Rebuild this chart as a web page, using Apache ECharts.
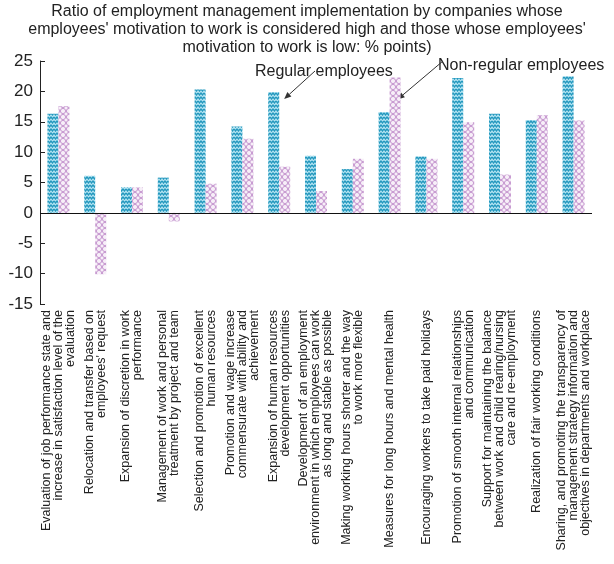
<!DOCTYPE html>
<html>
<head>
<meta charset="utf-8">
<script src="https://cdn.jsdelivr.net/npm/echarts@6/dist/echarts.min.js"></script>
<style>
  html, body { margin: 0; padding: 0; background: #fff; }
  #chart { width: 614px; height: 564px; }
</style>
</head>
<body>
<div id="chart"></div>
<script>
// Employment management items (x-axis categories)
const categories = [
  "Evaluation of job performance state and\nincrease in satisfaction level of the\nevaluation",
  "Relocation and transfer based on\nemployees' request",
  "Expansion of discretion in work\nperformance",
  "Management of work and personal\ntreatment by project and team",
  "Selection and promotion of excellent\nhuman resources",
  "Promotion and wage increase\ncommensurate with ability and\nachievement",
  "Expansion of human resources\ndevelopment opportunities",
  "Development of an employment\nenvironment in which employees can work\nas long and stable as possible",
  "Making working hours shorter and the way\nto work more flexible",
  "Measures for long hours and mental health",
  "Encouraging workers to take paid holidays",
  "Promotion of smooth internal relationships\nand communication",
  "Support for maintaining the balance\nbetween work and child rearing/nursing\ncare and re-employment",
  "Realization of fair working conditions",
  "Sharing, and promoting the transparency of\nmanagement strategy information and\nobjectives in departments and workplace"
];

// Difference in implementation ratio (% points)
const regularEmployees = [16.3, 6.1, 4.2, 5.8, 20.3, 14.2, 19.9, 9.4, 7.2, 16.6, 9.3, 22.2, 16.3, 15.3, 22.5];
const nonRegularEmployees = [17.6, -10.1, 4.2, -1.4, 4.8, 12.2, 7.6, 3.6, 8.9, 22.3, 8.9, 14.9, 6.3, 16.1, 15.2];

const yTicks = { min: -15, max: 25, interval: 5 };

const titleText = "Ratio of employment management implementation by companies whose\n" +
  "employees' motivation to work is considered high and those whose employees'\n" +
  "motivation to work is low: % points)";

// Hatch-style fills for the two series
function wavePattern() {
  const c = document.createElement('canvas');
  c.width = 6; c.height = 4;
  const g = c.getContext('2d');
  g.fillStyle = '#b4e4f2';
  g.fillRect(0, 0, 6, 4);
  g.strokeStyle = '#2498be';
  g.lineWidth = 1.3;
  g.beginPath();
  g.moveTo(0, 1); g.lineTo(1.5, 3); g.lineTo(3, 1); g.lineTo(4.5, 3); g.lineTo(6, 1);
  g.stroke();
  return c;
}
function ringPattern() {
  const c = document.createElement('canvas');
  c.width = 6; c.height = 6;
  const g = c.getContext('2d');
  g.fillStyle = '#f7eff8';
  g.fillRect(0, 0, 6, 6);
  g.strokeStyle = '#c597cf';
  g.lineWidth = 1;
  g.beginPath();
  g.arc(3, 3, 2.6, 0, Math.PI * 2);
  g.stroke();
  return c;
}

const chart = echarts.init(document.getElementById('chart'), null, { renderer: 'canvas' });
const font = "'Liberation Sans', Arial, sans-serif";

chart.setOption({
  animation: false,
  backgroundColor: '#ffffff',
  textStyle: { fontFamily: font },
  grid: { left: 40, right: 22, top: 61, bottom: 260, containLabel: false },
  xAxis: {
    type: 'category',
    data: categories,
    axisLine: { show: false },
    axisTick: { show: false },
    axisLabel: {
      interval: 0, rotate: 90, margin: 6,
      fontFamily: font, fontSize: 12.5, lineHeight: 12, color: '#222'
    }
  },
  yAxis: {
    type: 'value',
    min: yTicks.min, max: yTicks.max, interval: yTicks.interval,
    splitLine: { show: false },
    axisLine: { show: true, lineStyle: { color: '#222', width: 1 } },
    axisTick: { show: true, inside: true, length: 5, lineStyle: { color: '#222' } },
    axisLabel: { fontFamily: font, fontSize: 17, color: '#222', margin: 7 }
  },
  series: [
    {
      name: 'Regular employees',
      type: 'bar',
      data: regularEmployees,
      barWidth: 11,
      barGap: '0%',
      itemStyle: { color: { image: wavePattern(), repeat: 'repeat' } },
      markLine: {
        silent: true,
        symbol: 'none',
        label: { show: false },
        lineStyle: { color: '#111', width: 1, type: 'solid' },
        data: [{ yAxis: 0 }]
      }
    },
    {
      name: 'Non-regular employees',
      type: 'bar',
      data: nonRegularEmployees,
      barWidth: 11,
      barGap: '0%',
      itemStyle: { color: { image: ringPattern(), repeat: 'repeat' } }
    }
  ]
});

// Callout labels with arrows pointing at a bar of each series
function arrow(x1, y1, x2, y2) {
  const ang = Math.atan2(y2 - y1, x2 - x1);
  const L = 7, W = 3;
  const bx = x2 - L * Math.cos(ang), by = y2 - L * Math.sin(ang);
  const px = -Math.sin(ang) * W, py = Math.cos(ang) * W;
  return [
    { type: 'line', shape: { x1: x1, y1: y1, x2: bx, y2: by }, style: { stroke: '#333', lineWidth: 1 }, silent: true },
    { type: 'polygon', shape: { points: [[x2, y2], [bx + px, by + py], [bx - px, by - py]] }, style: { fill: '#333' }, silent: true }
  ];
}

const regTop = chart.convertToPixel({ seriesIndex: 0 }, [6, regularEmployees[6]]);
const nonTop = chart.convertToPixel({ seriesIndex: 1 }, [9, nonRegularEmployees[9]]);

chart.setOption({
  graphic: [
    {
      type: 'text', x: 307, y: 3,
      style: { text: titleText, font: '16px ' + font, fill: '#222', align: 'center', lineHeight: 18 },
      silent: true
    },
    { type: 'text', left: 255, top: 64, style: { text: 'Regular employees', font: '16px ' + font, fill: '#222' }, silent: true },
    { type: 'text', left: 438, top: 58, style: { text: 'Non-regular employees', font: '16px ' + font, fill: '#222' }, silent: true }
  ].concat(
    arrow(315, 71, regTop[0] + 5, regTop[1] + 7),
    arrow(443, 61, nonTop[0] + 8, nonTop[1] + 22)
  )
});
</script>
</body>
</html>
